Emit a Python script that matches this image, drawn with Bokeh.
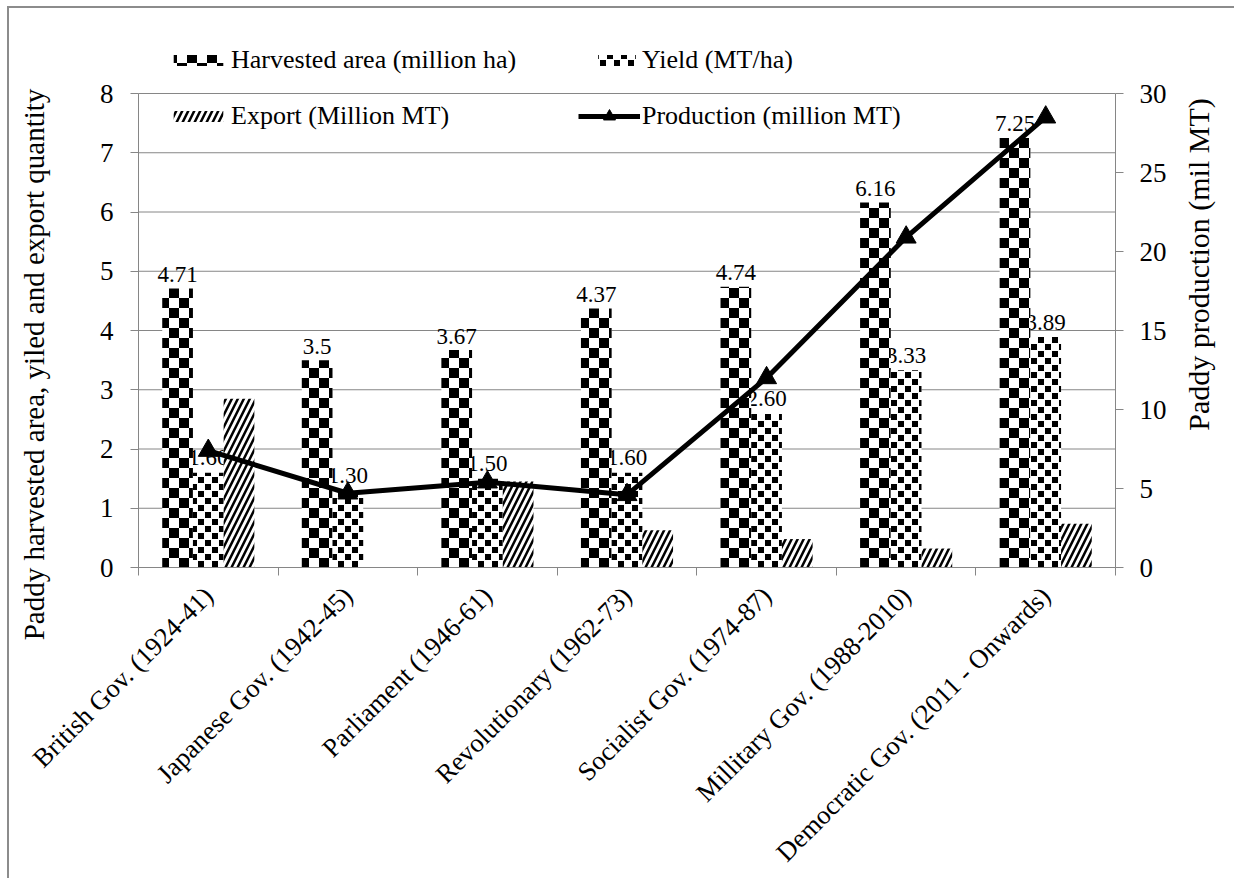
import math
from bokeh.plotting import figure
from bokeh.models import (Range1d, LinearAxis, FixedTicker, CustomJSTickFormatter, Legend,
                          LegendItem, Label, CanvasTexture, ColumnDataSource)
from bokeh.core.properties import value
from bokeh.transform import dodge
from bokeh.embed import file_html
from bokeh.resources import INLINE

# ---------------- data ----------------
categories = ["British Gov. (1924-41)", "Japanese Gov. (1942-45)", "Parliament (1946-61)",
              "Revolutionary (1962-73)", "Socialist Gov. (1974-87)", "Millitary Gov. (1988-2010)",
              "Democratic Gov. (2011 - Onwards)"]
harvested = [4.71, 3.5, 3.67, 4.37, 4.74, 6.16, 7.25]
yield_mt = [1.60, 1.30, 1.50, 1.60, 2.60, 3.33, 3.89]
export = [2.85, 0.0, 1.45, 0.63, 0.48, 0.32, 0.74]
production = [7.4, 4.7, 5.4, 4.6, 12.0, 20.9, 28.5]
harvested_labels = ["4.71", "3.5", "3.67", "4.37", "4.74", "6.16", "7.25"]
yield_labels = ["1.60", "1.30", "1.50", "1.60", "2.60", "3.33", "3.89"]
left_ticks = [0, 1, 2, 3, 4, 5, 6, 7, 8]
right_ticks = [0, 5, 10, 15, 20, 25, 30]
left_max, right_max = 8, 30

FONT = "Liberation Serif"
GRAY = "#868686"
N = len(categories)

# ---------------- layout (page pixels) ----------------
FR_L, FR_T, FR_R, FR_B = 9, 8, 1234, 878          # drawing frame on the page
PA_L, PA_T, PA_R, PA_B = 138, 93, 1115, 567        # plot area (axes box)
px_x = (PA_R - PA_L) / N
px_y = (PA_B - PA_T) / left_max
px_r = (PA_B - PA_T) / right_max

x_range = Range1d((FR_L - PA_L) / px_x, (FR_R - PA_L) / px_x)
y_range = Range1d(-(FR_B - PA_B) / px_y, (PA_B - FR_T) / px_y)
r_range = Range1d(-(FR_B - PA_B) / px_r, (PA_B - FR_T) / px_r)

xc = [i + 0.5 for i in range(N)]
src = ColumnDataSource(dict(x=xc, harvested=harvested, yld=yield_mt, export=export,
                            production=production, hl=harvested_labels, yl=yield_labels))

p = figure(frame_width=FR_R - FR_L, frame_height=FR_B - FR_T, x_range=x_range, y_range=y_range,
           output_backend="svg", toolbar_location=None, min_border=0,
           background_fill_color="white", border_fill_color="white")
p.styles = {"margin-left": "7px", "margin-top": "6px",
            "border-left": "2px solid #8c8c8c", "border-top": "2px solid #8c8c8c"}
p.outline_line_color = None
p.xgrid.visible = False
p.ygrid.visible = False
p.extra_y_ranges = {"prod": r_range}

# horizontal gridlines across the plot area only
p.segment(x0=[0] * len(left_ticks), y0=left_ticks, x1=[N] * len(left_ticks), y1=left_ticks,
          line_color=GRAY, line_width=1)

# left axis
ya = p.yaxis[0]
ya.fixed_location = 0
ya.bounds = (0, left_max)
ya.ticker = FixedTicker(ticks=left_ticks)
ya.major_tick_out = 8
ya.major_tick_in = 0
ya.minor_tick_out = 0
ya.minor_tick_in = 0
ya.axis_line_color = GRAY
ya.major_tick_line_color = GRAY
ya.major_label_text_font = FONT
ya.major_label_text_font_size = "27px"
ya.major_label_text_color = "black"
ya.major_label_standoff = 17

# right axis
ra = LinearAxis(y_range_name="prod", ticker=FixedTicker(ticks=right_ticks), bounds=(0, right_max),
                fixed_location=N)
ra.major_tick_out = 8
ra.major_tick_in = 0
ra.minor_tick_out = 0
ra.minor_tick_in = 0
ra.axis_line_color = GRAY
ra.major_tick_line_color = GRAY
ra.major_label_text_font = FONT
ra.major_label_text_font_size = "27px"
ra.major_label_text_color = "black"
ra.major_label_standoff = 16
p.add_layout(ra, "right")

# category axis
xa = p.xaxis[0]
xa.fixed_location = 0
xa.bounds = (0, N)
xa.ticker = FixedTicker(ticks=xc, minor_ticks=list(range(N + 1)))
xa.formatter = CustomJSTickFormatter(args=dict(labels=categories), code="""
const i = Math.round(tick - 0.5);
return (i >= 0 && i < labels.length) ? labels[i] : '';
""")
xa.major_label_orientation = math.pi / 4
xa.major_tick_out = 0
xa.major_tick_in = 0
xa.minor_tick_out = 8
xa.minor_tick_in = 0
xa.minor_tick_line_color = GRAY
xa.axis_line_color = GRAY
xa.major_label_text_font = FONT
xa.major_label_text_font_size = "26.5px"
xa.major_label_text_color = "black"
xa.major_label_standoff = 16

# axis titles (screen units relative to frame left / bottom)
p.add_layout(Label(x=33 - FR_L, y=FR_B - 364, x_units="screen", y_units="screen",
                   text="Paddy harvested area, yiled and export quantity", angle=math.pi / 2,
                   text_align="center", text_baseline="middle", text_font=FONT,
                   text_font_size="29px", text_color="black"))
p.add_layout(Label(x=1198 - FR_L, y=FR_B - 264, x_units="screen", y_units="screen",
                   text="Paddy production (mil MT)", angle=math.pi / 2,
                   text_align="center", text_baseline="middle", text_font=FONT,
                   text_font_size="30px", text_color="black"))

# ---------------- textures ----------------
checker = CanvasTexture(repetition="repeat", code="""
const c = ctx.canvas;
c.width = 20; c.height = 20;
ctx.fillStyle = "#000000";
ctx.fillRect(0, 0, 10, 10);
ctx.fillRect(10, 10, 10, 10);
""")
dots = CanvasTexture(repetition="repeat", code="""
const c = ctx.canvas;
c.width = 14; c.height = 14;
ctx.fillStyle = "#000000";
ctx.fillRect(0, 0, 6, 6);
ctx.fillRect(7, 7, 6, 6);
""")

BW = 0.22
p.text(x="x", y="yld", text="yl", source=src, text_font=value(FONT), text_font_size=value("23px"),
       text_align="center", text_baseline="alphabetic", y_offset=-15, text_color="black")

r_h = p.vbar(x=dodge("x", -BW), top="harvested", width=BW, source=src, fill_color="white",
             line_color=None, hatch_pattern=value("checker"), hatch_extra={"checker": checker},
             hatch_color="black", hatch_scale=10)
r_y = p.vbar(x="x", top="yld", width=BW, source=src, fill_color="white",
             line_color=None, hatch_pattern=value("dots"), hatch_extra={"dots": dots},
             hatch_color="black", hatch_scale=8)
r_e = p.vbar(x=dodge("x", BW), top="export", width=BW, source=src, fill_color="white",
             line_color=None, hatch_pattern="right_diagonal_line", hatch_color="black",
             hatch_scale=12, hatch_weight=2.5)

p.text(x=dodge("x", -BW), y="harvested", text="hl", source=src, text_font=value(FONT),
       text_font_size=value("23px"), text_align="center", text_baseline="alphabetic",
       y_offset=-14, text_color="black")

r_l = p.line(x="x", y="production", source=src, y_range_name="prod", line_color="black",
             line_width=5)
r_m = p.scatter(x="x", y="production", source=src, y_range_name="prod", marker="triangle",
                size=20, fill_color="black", line_color="black")


def add_legend(label, renderers, left, bottom, gw, gh):
    lg = Legend(items=[LegendItem(label=label, renderers=renderers)],
                location=(left - FR_L, FR_B - bottom),
                orientation="horizontal", border_line_color=None, background_fill_alpha=0,
                padding=0, margin=0, spacing=0, glyph_width=gw, glyph_height=gh,
                label_standoff=2, label_text_font=FONT, label_text_font_size="26px",
                label_text_color="black", label_height=32)
    p.add_layout(lg)


add_legend("Harvested area (million ha)", [r_h], 167, 76, 62, 14)
add_legend("Yield (MT/ha)", [r_y], 593, 76, 47, 14)
add_legend("Export (Million MT)", [r_e], 167, 132, 62, 14)
add_legend("Production (million MT)", [r_l, r_m], 578, 132, 62, 30)

open("out.html", "w").write(file_html(p, INLINE))
